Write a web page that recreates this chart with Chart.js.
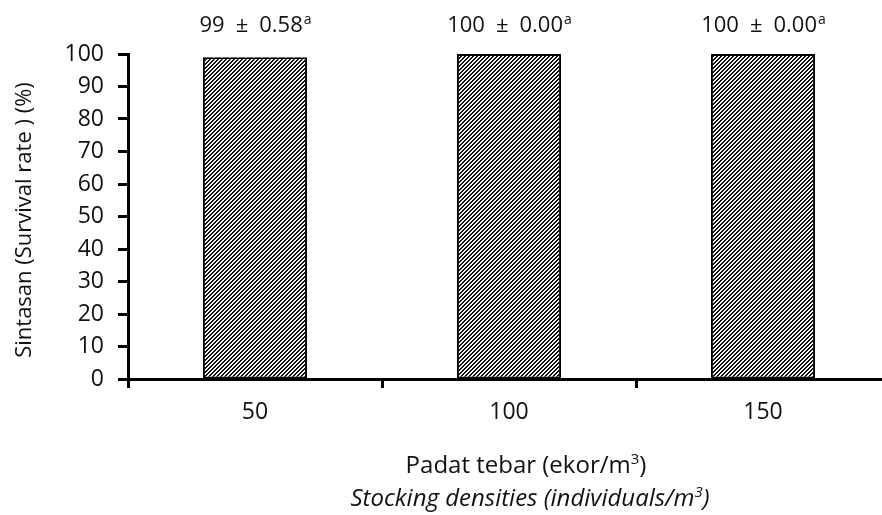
<!DOCTYPE html>
<html>
<head>
<meta charset="utf-8">
<script src="https://cdn.jsdelivr.net/npm/chart.js@4/dist/chart.umd.min.js"></script>
<style>
  html, body { margin: 0; padding: 0; background: #fff; overflow: hidden; }
  #wrap { width: 890px; height: 515px; }
</style>
</head>
<body>
<div id="wrap"><canvas id="c" width="890" height="515"></canvas></div>
<script>
// Stocking densities (individuals/m³) and survival rate (%) with SD and significance letters
const densities = ['50', '100', '150'];
const survival = [99, 100, 100];
const survivalSd = [0.58, 0.00, 0.00];
const sigLetters = ['a', 'a', 'a'];
const yTicks = [0, 10, 20, 30, 40, 50, 60, 70, 80, 90, 100];

const FONT = "'Open Sans', 'DejaVu Sans', sans-serif";

// Diagonal hatch fill for the bars
function makeHatch() {
  const size = 4;
  const t = document.createElement('canvas');
  t.width = size; t.height = size;
  const g = t.getContext('2d');
  const img = g.createImageData(size, size);
  for (let y = 0; y < size; y++) {
    for (let x = 0; x < size; x++) {
      const k = (x + y) % size;
      const v = k < 2 ? 15 : 245;
      const i = (y * size + x) * 4;
      img.data[i] = v; img.data[i + 1] = v; img.data[i + 2] = v; img.data[i + 3] = 255;
    }
  }
  g.putImageData(img, 0, 0);
  return document.getElementById('c').getContext('2d').createPattern(t, 'repeat');
}

// Mean ± SD labels with superscript letters, above the plot area
const valueLabels = {
  id: 'valueLabels',
  afterDatasetsDraw(chart) {
    const ctx = chart.ctx;
    const meta = chart.getDatasetMeta(0);
    const base = chart.chartArea.top - 22;
    ctx.save();
    ctx.fillStyle = '#111';
    ctx.textBaseline = 'alphabetic';
    ctx.textAlign = 'left';
    meta.data.forEach((bar, i) => {
      const main = survival[i] + '\u2002\u00b1\u2002' + survivalSd[i].toFixed(2);
      ctx.font = '22px ' + FONT;
      const wMain = ctx.measureText(main).width;
      ctx.font = '14px ' + FONT;
      const wSup = ctx.measureText(sigLetters[i]).width;
      const x0 = bar.x - (wMain + wSup) / 2;
      ctx.font = '22px ' + FONT;
      ctx.fillText(main, x0, base);
      ctx.font = '14px ' + FONT;
      ctx.fillText(sigLetters[i], x0 + wMain + 1, base - 8);
    });
    ctx.restore();
  }
};

// Axis titles
const axisTitles = {
  id: 'axisTitles',
  afterDraw(chart) {
    const ctx = chart.ctx;
    ctx.save();
    ctx.fillStyle = '#111';
    ctx.textBaseline = 'alphabetic';
    ctx.textAlign = 'left';

    // x title, first line with superscript 3
    const l1 = 'Padat tebar (ekor/m';
    ctx.font = '24px ' + FONT;
    const w1 = ctx.measureText(l1).width;
    const w1b = ctx.measureText(')').width;
    ctx.font = '15px ' + FONT;
    const w1s = ctx.measureText('3').width;
    let x = 526 - (w1 + w1s + w1b) / 2;
    ctx.font = '24px ' + FONT;
    ctx.fillText(l1, x, 473);
    ctx.font = '15px ' + FONT;
    ctx.fillText('3', x + w1, 464);
    ctx.font = '24px ' + FONT;
    ctx.fillText(')', x + w1 + w1s, 473);

    // x title, second line (italic)
    const l2 = 'Stocking densities (individuals/m';
    ctx.font = 'italic 24px ' + FONT;
    const w2 = ctx.measureText(l2).width;
    const w2b = ctx.measureText(')').width;
    ctx.font = 'italic 15px ' + FONT;
    const w2s = ctx.measureText('3').width;
    x = 530 - (w2 + w2s + w2b) / 2;
    ctx.font = 'italic 24px ' + FONT;
    ctx.fillText(l2, x, 506);
    ctx.font = 'italic 15px ' + FONT;
    ctx.fillText('3', x + w2, 497);
    ctx.font = 'italic 24px ' + FONT;
    ctx.fillText(')', x + w2 + w2s, 506);

    // y title
    ctx.translate(25, 220);
    ctx.rotate(-Math.PI / 2);
    ctx.textAlign = 'center';
    ctx.textBaseline = 'middle';
    ctx.font = '22px ' + FONT;
    ctx.fillText('Sintasan (Survival rate ) (%)', 0, 0);
    ctx.restore();
  }
};

const chart = new Chart(document.getElementById('c'), {
  type: 'bar',
  data: {
    labels: densities,
    datasets: [{
      data: survival,
      backgroundColor: makeHatch(),
      borderColor: '#000',
      borderWidth: 2,
      borderSkipped: false,
      categoryPercentage: 1.0,
      barPercentage: 0.41
    }]
  },
  options: {
    responsive: false,
    animation: false,
    layout: { padding: { top: 54, right: 0, left: 0, bottom: 0 } },
    plugins: {
      legend: { display: false },
      tooltip: { enabled: false }
    },
    scales: {
      x: {
        grid: {
          offset: true,
          drawOnChartArea: false,
          drawTicks: true,
          tickLength: 9,
          tickWidth: 3,
          tickColor: '#000'
        },
        border: { display: true, color: '#000', width: 3 },
        ticks: {
          color: '#111',
          font: { family: FONT, size: 23 },
          padding: 11
        },
        afterFit(scale) { scale.height = 515 - 379; }
      },
      y: {
        min: 0,
        max: 100,
        afterBuildTicks(scale) { scale.ticks = yTicks.map(v => ({ value: v })); },
        grid: {
          drawOnChartArea: false,
          drawTicks: true,
          tickLength: 10,
          tickWidth: 3,
          tickColor: '#000'
        },
        border: { display: true, color: '#000', width: 3 },
        ticks: {
          color: '#111',
          font: { family: FONT, size: 23 },
          padding: 14
        },
        afterFit(scale) { scale.width = 128; }
      }
    }
  },
  plugins: [valueLabels, axisTitles]
});
</script>
</body>
</html>
